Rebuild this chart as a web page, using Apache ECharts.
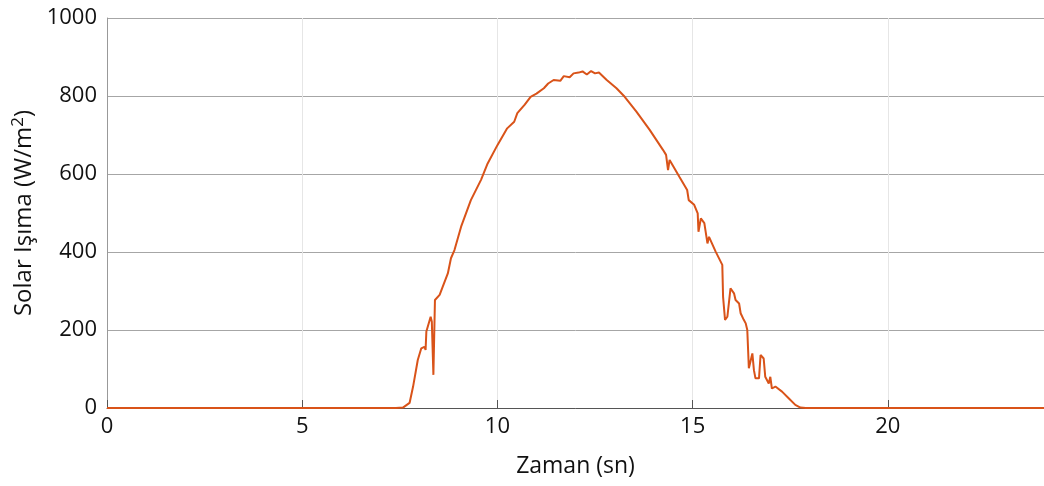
<!DOCTYPE html>
<html>
<head>
<meta charset="utf-8">
<script src="https://cdn.jsdelivr.net/npm/echarts@6/dist/echarts.min.js"></script>
<style>
  html, body { margin: 0; padding: 0; background: #fff; }
  #chart { width: 1044px; height: 486px; }
</style>
</head>
<body>
<div id="chart"></div>
<script>
// time (sn) and solar irradiance (W/m2)
let zaman = [0, 1.6, 1.65, 1.7, 7.4, 7.58, 7.75, 7.84, 7.96, 8.05, 8.13, 8.16, 8.18, 8.29, 8.32, 8.36, 8.40,
    8.52, 8.60, 8.73, 8.81, 8.90, 9.07, 9.32, 9.58, 9.75, 10.0, 10.25, 10.43, 10.51, 10.7, 10.85, 11.0,
    11.19, 11.3, 11.44, 11.61, 11.70, 11.85, 11.95, 12.08, 12.18, 12.29, 12.4, 12.50, 12.6, 12.80, 13.05,
    13.26, 13.56, 13.90, 14.24, 14.32, 14.37, 14.41, 14.66, 14.86, 14.90, 15.04, 15.13, 15.15, 15.21,
    15.30, 15.38, 15.42, 15.59, 15.76, 15.78, 15.83, 15.89, 15.97, 16.06, 16.10, 16.19, 16.23, 16.31,
    16.36, 16.40, 16.44, 16.53, 16.57, 16.61, 16.70, 16.74, 16.82, 16.86, 16.95, 16.99, 17.03, 17.12,
    17.29, 17.46, 17.63, 17.76, 17.9, 24];
let isima = [0, 0, 3, 0, 0, 1, 13, 55, 123, 153, 157, 149, 196, 234, 221, 85, 277,
    290, 311, 345, 384, 405, 465, 533, 585, 627, 674, 717, 734, 756, 778, 798, 806,
    820, 832, 841, 839, 851, 848, 858, 860, 863, 855, 864, 858, 860, 841, 820,
    798, 760, 713, 662, 649, 610, 636, 593, 559, 533, 521, 499, 452, 486,
    474, 422, 439, 401, 367, 285, 226, 234, 307, 294, 277, 268, 243, 226,
    217, 200, 102, 140, 97, 76, 76, 136, 127, 80, 63, 80, 50, 55,
    42, 25, 8, 1, 0, 0];

let xTicks = [0, 5, 10, 15, 20];
let yTicks = [0, 200, 400, 600, 800, 1000];

let seriesData = zaman.map(function (t, i) { return [t, isima[i]]; });

let dom = document.getElementById('chart');
let myChart = echarts.init(dom);
let fontFam = '"Open Sans", "Noto Sans", sans-serif';

let option = {
    animation: false,
    backgroundColor: '#fff',
    grid: {
        left: 107,
        top: 18,
        width: 943,
        height: 390,
        containLabel: false
    },
    xAxis: {
        type: 'value',
        min: 0,
        max: 24,
        interval: 5,
        name: 'Zaman (sn)',
        nameLocation: 'middle',
        nameGap: 47,
        nameTextStyle: {color: '#111', fontSize: 23, fontFamily: fontFam},
        axisLine: {show: true, lineStyle: {color: '#555', width: 1}},
        axisTick: {show: true, inside: true, length: 8, customValues: xTicks, lineStyle: {color: '#555'}},
        axisLabel: {
            color: '#111', fontSize: 22, fontFamily: fontFam, margin: 8,
            customValues: xTicks
        },
        splitLine: {show: true, lineStyle: {color: '#e6e6e6', width: 1}}
    },
    yAxis: {
        type: 'value',
        min: 0,
        max: 1000,
        interval: 200,
        name: '{n|Solar Işıma (W/m}{s|2}{n|)}',
        nameLocation: 'middle',
        nameGap: 64,
        nameTextStyle: {
            rich: {
                n: {color: '#111', fontSize: 24, fontFamily: fontFam},
                s: {color: '#111', fontSize: 17, fontFamily: fontFam, verticalAlign: 'top', padding: [0, 0, 12, 0]}
            }
        },
        axisLine: {show: true, lineStyle: {color: '#999', width: 1}},
        axisTick: {show: false},
        axisLabel: {
            color: '#111', fontSize: 22, fontFamily: fontFam, margin: 10,
            formatter: function (v) { return yTicks.indexOf(v) >= 0 ? String(v) : ''; }
        },
        splitLine: {show: true, lineStyle: {color: '#a6a6a6', width: 1}}
    },
    series: [
        {
            name: 'Solar Işıma',
            type: 'line',
            data: seriesData,
            showSymbol: false,
            symbol: 'none',
            lineStyle: {color: '#D95319', width: 2},
            z: 5
        }
    ]
};

myChart.setOption(option, true);
</script>
</body>
</html>
